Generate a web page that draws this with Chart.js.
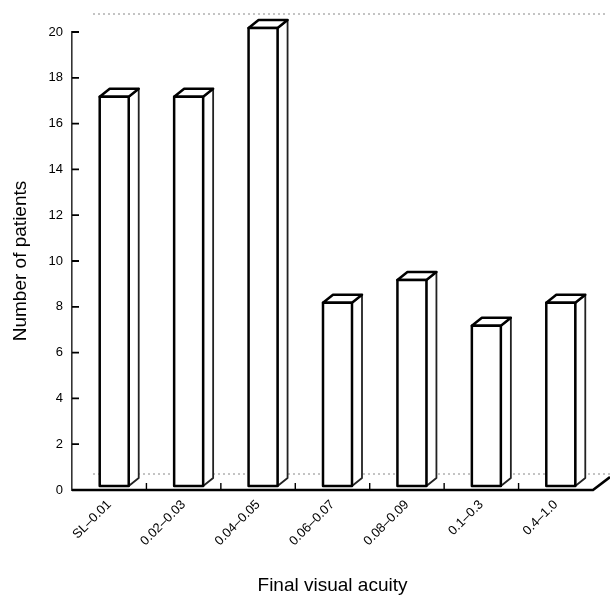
<!DOCTYPE html>
<html><head><meta charset="utf-8">
<script src="https://cdn.jsdelivr.net/npm/chart.js@4"></script>
<style>html,body{margin:0;padding:0;background:#fff}#wrap{width:610px;height:600px}</style>
</head><body><div id="wrap"><canvas id="c" width="610" height="600"></canvas></div>
<script>
const categories = ['SL–0.01', '0.02–0.03', '0.04–0.05', '0.06–0.07', '0.08–0.09', '0.1–0.3', '0.4–1.0'];
const patientCounts = [17, 17, 20, 8, 9, 7, 8];
const yMin = 0;
const yMax = 20;
const yStep = 2;
const yAxisTitle = 'Number of patients';
const xAxisTitle = 'Final visual acuity';

const FONT = "'Liberation Sans', Arial, Helvetica, sans-serif";
const DEPTH = { dx: 21, dy: -16 };     // floor depth (projection)
const BAR_FRONT = { dx: 5, dy: -4 };   // bars sit in the middle of the depth
const BAR_DEPTH = { dx: 10, dy: -8 };

const box3d = {
  id: 'box3d',
  beforeDatasetsDraw(chart) {
    const { ctx, chartArea: a } = chart;
    ctx.save();
    ctx.strokeStyle = '#888';
    ctx.lineWidth = 1;
    ctx.setLineDash([2, 3]);
    ctx.beginPath();
    ctx.moveTo(a.left + DEPTH.dx, a.top + DEPTH.dy - 2);
    ctx.lineTo(a.right + 12, a.top + DEPTH.dy - 2);
    ctx.moveTo(a.left + DEPTH.dx, a.bottom + DEPTH.dy);
    ctx.lineTo(a.right + 17, a.bottom + DEPTH.dy);
    ctx.stroke();
    ctx.restore();
  },
  afterDatasetsDraw(chart) {
    const { ctx } = chart;
    const meta = chart.getDatasetMeta(0);
    ctx.save();
    ctx.setLineDash([]);
    meta.data.forEach((el) => {
      const w = el.width;
      const fl = el.x - w / 2 + BAR_FRONT.dx;
      const fr = el.x + w / 2 + BAR_FRONT.dx;
      const ft = el.y + BAR_FRONT.dy;
      const fb = el.base + BAR_FRONT.dy;
      const dx = BAR_DEPTH.dx, dy = BAR_DEPTH.dy;
      ctx.lineJoin = 'round';
      ctx.beginPath();
      ctx.moveTo(fr, ft);
      ctx.lineTo(fr + dx, ft + dy);
      ctx.lineTo(fr + dx, fb + dy);
      ctx.lineTo(fr, fb);
      ctx.closePath();
      ctx.fillStyle = '#fff';
      ctx.fill();
      ctx.strokeStyle = '#222';
      ctx.lineWidth = 1.8;
      ctx.stroke();
      ctx.beginPath();
      ctx.moveTo(fl, ft);
      ctx.lineTo(fl + dx, ft + dy);
      ctx.lineTo(fr + dx, ft + dy);
      ctx.lineTo(fr, ft);
      ctx.closePath();
      ctx.fillStyle = '#fff';
      ctx.fill();
      ctx.strokeStyle = '#000';
      ctx.lineWidth = 2.5;
      ctx.stroke();
      ctx.fillStyle = '#fff';
      ctx.fillRect(fl, ft, fr - fl, fb - ft);
      ctx.lineWidth = 2.5;
      ctx.strokeRect(fl, ft, fr - fl, fb - ft);
    });
    ctx.restore();
  },
  afterDraw(chart) {
    const { ctx, chartArea: a, scales } = chart;
    ctx.save();
    ctx.strokeStyle = '#000';
    ctx.lineWidth = 2.6;
    ctx.beginPath();
    ctx.moveTo(a.left, a.bottom);
    ctx.lineTo(a.right, a.bottom);
    ctx.lineTo(a.right + 17, a.bottom - 13);
    ctx.stroke();
    ctx.lineWidth = 1.4;
    const xs = scales.x;
    ctx.beginPath();
    for (let i = 0; i < categories.length - 1; i++) {
      const bx = (xs.getPixelForTick(i) + xs.getPixelForTick(i + 1)) / 2;
      ctx.moveTo(bx, a.bottom);
      ctx.lineTo(bx, a.bottom - 7);
    }
    ctx.stroke();
    const ys = scales.y;
    ctx.lineWidth = 1.8;
    ctx.beginPath();
    ys.ticks.forEach((t) => {
      const py = ys.getPixelForValue(t.value);
      ctx.moveTo(a.left, py);
      ctx.lineTo(a.left + 7, py);
    });
    ctx.stroke();
    ctx.restore();
  }
};

new Chart(document.getElementById('c'), {
  type: 'bar',
  data: {
    labels: categories,
    datasets: [{
      data: patientCounts,
      backgroundColor: 'rgba(0,0,0,0)',
      borderWidth: 0,
      barThickness: 29
    }]
  },
  options: {
    responsive: false,
    animation: false,
    devicePixelRatio: 1,
    layout: { padding: { top: 32, right: 17, left: 0, bottom: 0 } },
    plugins: { legend: { display: false }, tooltip: { enabled: false } },
    scales: {
      x: {
        type: 'category',
        offset: true,
        grid: { display: false, drawTicks: false },
        border: { display: false },
        ticks: {
          minRotation: 45, maxRotation: 45, autoSkip: false, padding: 7,
          color: '#000', font: { family: FONT, size: 13 }
        },
        title: {
          display: true, text: xAxisTitle, color: '#000',
          font: { family: FONT, size: 19 }, padding: { top: 4, bottom: 3 }
        },
        afterFit(s) { s.height = 110; }
      },
      y: {
        min: yMin, max: yMax,
        grid: { display: false, drawTicks: false },
        border: { display: true, color: '#333', width: 1.6 },
        ticks: {
          stepSize: yStep, padding: 9, color: '#000',
          font: { family: FONT, size: 13 }
        },
        title: {
          display: true, text: yAxisTitle, color: '#000',
          font: { family: FONT, size: 19 }, padding: { top: 9, bottom: 0 }
        },
        afterFit(s) { s.width = 72; }
      }
    }
  },
  plugins: [box3d]
});
</script>
</body></html>
